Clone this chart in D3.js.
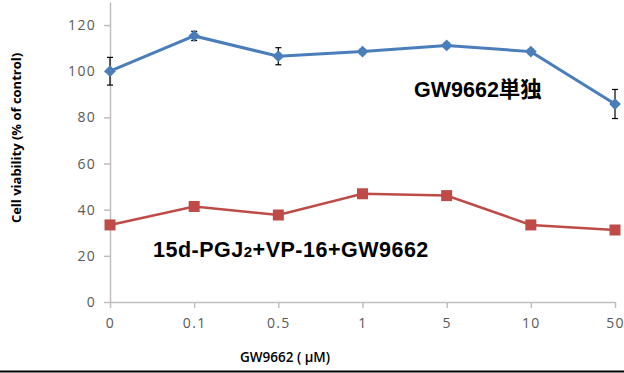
<!DOCTYPE html>
<html>
<head>
<meta charset="utf-8">
<script src="https://cdn.jsdelivr.net/npm/d3@7"></script>
<style>
  html, body { margin: 0; padding: 0; background: #fff; }
  svg { display: block; }
</style>
</head>
<body>
<div id="chart"></div>
<script>
// doses on the x axis (categorical)
const doses = ["0", "0.1", "0.5", "1", "5", "10", "50"];
// GW9662 alone
const gwAlone = [100, 115.3, 106.5, 108.5, 111.2, 108.5, 85.8];
const gwAloneErr = [6, 2, 3.7, 1, 1, 1, 6.3];
// 15d-PGJ2 + VP-16 + GW9662
const combo = [33.4, 41.4, 37.7, 46.9, 46.1, 33.4, 31.2];
const yTicks = [0, 20, 40, 60, 80, 100, 120];

const width = 624, height = 373;
const blue = "#4a7ebb", red = "#be4b48", axisGrey = "#bfbfbf", tickText = "#595959";

const svg = d3.select("#chart").append("svg")
  .attr("width", width)
  .attr("height", height);

const x = d3.scalePoint().domain(doses).range([110, 615]);
const y = d3.scaleLinear().domain([0, 130]).range([302, 2]);

// y axis
const yAxis = svg.append("g")
  .attr("transform", "translate(110,0)")
  .call(d3.axisLeft(y).tickValues(yTicks).tickSize(6).tickPadding(8).tickSizeOuter(0));
yAxis.select(".domain").attr("stroke", axisGrey).attr("stroke-width", 1.5);
yAxis.selectAll(".tick line").attr("stroke", axisGrey).attr("stroke-width", 1.5);
yAxis.selectAll(".tick text")
  .attr("fill", tickText)
  .style("font-family", "'Open Sans', sans-serif")
  .style("font-size", "14px")
  .style("letter-spacing", "1.3px");

// x axis
const xAxis = svg.append("g")
  .attr("transform", `translate(0,${y(0)})`)
  .call(d3.axisBottom(x).tickSize(6).tickPadding(10).tickSizeOuter(0));
xAxis.select(".domain").attr("stroke", axisGrey).attr("stroke-width", 1.5);
xAxis.selectAll(".tick line").attr("stroke", axisGrey).attr("stroke-width", 1.5);
xAxis.selectAll(".tick text")
  .attr("fill", tickText)
  .style("font-family", "'Open Sans', sans-serif")
  .style("font-size", "14px")
  .style("letter-spacing", "1.3px");

const line = d3.line()
  .x((d, i) => x(doses[i]))
  .y(d => y(d));

// error bars for GW9662 alone
const eb = svg.append("g").attr("stroke", "#000").attr("stroke-width", 1.2);
gwAlone.forEach((v, i) => {
  const cx = x(doses[i]);
  const top = y(v + gwAloneErr[i]), bot = y(v - gwAloneErr[i]);
  eb.append("line").attr("x1", cx).attr("x2", cx).attr("y1", top).attr("y2", bot);
  eb.append("line").attr("x1", cx - 3).attr("x2", cx + 3).attr("y1", top).attr("y2", top);
  eb.append("line").attr("x1", cx - 3).attr("x2", cx + 3).attr("y1", bot).attr("y2", bot);
});

// blue line + diamonds
svg.append("path")
  .datum(gwAlone)
  .attr("fill", "none")
  .attr("stroke", blue)
  .attr("stroke-width", 3)
  .attr("d", line);

svg.append("g").selectAll("path")
  .data(gwAlone)
  .join("path")
  .attr("d", d3.symbol().type(d3.symbolDiamond2).size(88))
  .attr("transform", (d, i) => `translate(${x(doses[i])},${y(d)})`)
  .attr("fill", blue);

// red line + squares
svg.append("path")
  .datum(combo)
  .attr("fill", "none")
  .attr("stroke", red)
  .attr("stroke-width", 2.5)
  .attr("d", line);

svg.append("g").selectAll("rect")
  .data(combo)
  .join("rect")
  .attr("x", (d, i) => x(doses[i]) - 5.5)
  .attr("y", d => y(d) - 5.5)
  .attr("width", 11)
  .attr("height", 11)
  .attr("fill", red);

// series labels
svg.append("text")
  .attr("x", 414)
  .attr("y", 97)
  .style("font-family", "'Liberation Sans', Arial, 'Noto Sans CJK JP', sans-serif")
  .style("font-weight", "bold")
  .style("font-size", "21.5px")
  .attr("fill", "#000")
  .text("GW9662単独");

const lbl = svg.append("text")
  .attr("x", 153)
  .attr("y", 257)
  .style("font-family", "'Liberation Sans', Arial, sans-serif")
  .style("font-weight", "bold")
  .style("font-size", "21.5px")
  .style("letter-spacing", "0.5px")
  .attr("fill", "#000");
lbl.append("tspan").text("15d-PGJ");
lbl.append("tspan").style("font-size", "15px").text("2");
lbl.append("tspan").text("+VP-16+GW9662");

// axis titles
svg.append("text")
  .attr("transform", "translate(21,138) rotate(-90)")
  .attr("text-anchor", "middle")
  .style("font-family", "'Open Sans', sans-serif")
  .style("font-weight", "bold")
  .style("font-size", "13px")
  .attr("fill", "#000")
  .text("Cell viability (% of control)");

svg.append("text")
  .attr("x", 285)
  .attr("y", 362)
  .attr("text-anchor", "middle")
  .style("font-family", "'Open Sans', sans-serif")
  .style("font-weight", "600")
  .style("font-size", "13.5px")
  .attr("fill", "#000")
  .text("GW9662 ( μM)");

// bottom rule
svg.append("line")
  .attr("x1", 0).attr("x2", width)
  .attr("y1", 371.5).attr("y2", 371.5)
  .attr("stroke", "#000")
  .attr("stroke-width", 2);
</script>
</body>
</html>
